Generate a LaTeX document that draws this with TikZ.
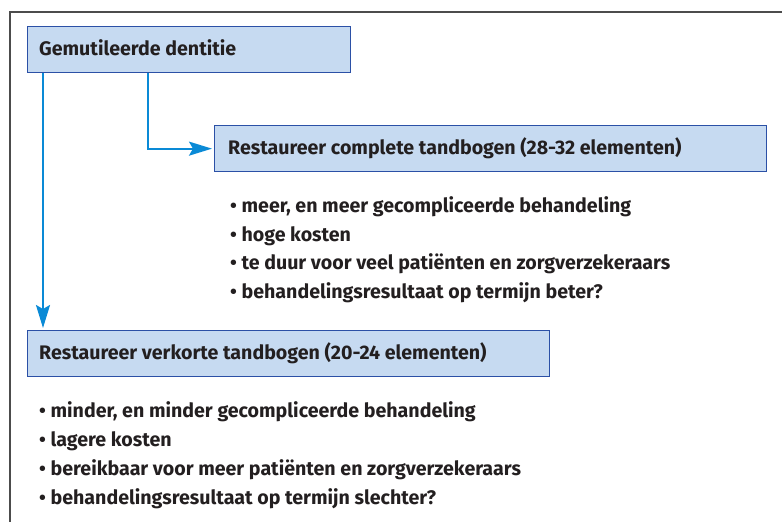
\documentclass[tikz,border=0pt]{standalone}
\usepackage{fontspec}
\setmainfont{Fira Sans}
\usetikzlibrary{arrows.meta}
\definecolor{boxfill}{HTML}{C6DAF1}
\definecolor{boxline}{HTML}{2B50A6}
\definecolor{arrowblue}{HTML}{0A8AD6}
\definecolor{txt}{HTML}{231F20}
\begin{document}
\begin{tikzpicture}[x=1pt,y=-1pt,
  hdr/.style={draw=boxline, line width=1.3pt, fill=boxfill, anchor=north west, inner sep=0pt},
  conn/.style={draw=arrowblue, line width=2pt, shorten >=2pt, -{Stealth[length=23pt,width=14pt,inset=4pt]}},
  bul/.style={anchor=base west, inner sep=0pt, text=txt, font=\fontsize{19.6}{23}\selectfont\bfseries}]
\useasboundingbox (0,0) rectangle (782,522);
\begin{scope}
\clip (0,0) rectangle (782,522);
\draw[line width=1.4pt, draw=black!70] (10,12) rectangle (800,540);
\end{scope}
% boxes
\node[hdr, minimum width=323pt, minimum height=46pt] (b1) at (27,26) {};
\node[bul] (t1) at (39,55) {Gemutileerde dentitie};
\node[hdr, minimum width=552pt, minimum height=46pt] (b2) at (214,125) {};
\node[bul] (t2) at (228,154) {Restaureer complete tandbogen (28-32 elementen)};
\node[hdr, minimum width=522pt, minimum height=46pt] (b3) at (27,330) {};
\node[bul] (t3) at (39,359) {Restaureer verkorte tandbogen (20-24 elementen)};
% connectors
\coordinate (s1) at (43,72);
\draw[conn] (b1.south west -| s1) -- (b3.north west -| s1);
\coordinate (s2) at (148,72);
\draw[conn] (b1.south west -| s2) |- (b2.west);
% lists
\node[bul] (a1) at (230,212) {• meer, en meer gecompliceerde behandeling};
\node[bul] (a2) at (230,241) {• hoge kosten};
\node[bul] (a3) at (230,269) {• te duur voor veel patiënten en zorgverzekeraars};
\node[bul] (a4) at (230,298) {• behandelingsresultaat op termijn beter?};
\node[bul] (c1) at (39,417) {• minder, en minder gecompliceerde behandeling};
\node[bul] (c2) at (39,446) {• lagere kosten};
\node[bul] (c3) at (39,475) {• bereikbaar voor meer patiënten en zorgverzekeraars};
\node[bul] (c4) at (39,504) {• behandelingsresultaat op termijn slechter?};
\end{tikzpicture}
\end{document}
